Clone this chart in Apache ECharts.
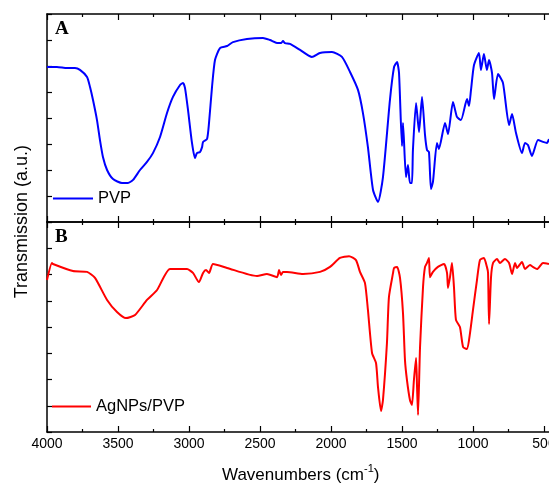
<!DOCTYPE html>
<html>
<head>
<meta charset="utf-8">
<script src="https://cdn.jsdelivr.net/npm/echarts@6/dist/echarts.min.js"></script>
<style>html,body{margin:0;padding:0;background:#fff}#c{width:549px;height:485px}</style>
</head>
<body>
<div id="c"></div>
<script>
// Panel A: PVP
const pvpWavenumber = [4000,3930,3859,3803,3768,3718,3697,3676,3648,3627,3606,3577,3535,3472,3430,3394,3345,3296,3254,3204,3155,3113,3063,3042,3028,3007,2979,2958,2944,2923,2908,2901,2873,2859,2838,2817,2782,2732,2690,2592,2479,2430,2373,2352,2338,2324,2289,2218,2134,2078,1993,1923,1866,1810,1775,1740,1704,1669,1634,1585,1556,1535,1521,1500,1493,1472,1458,1444,1430,1423,1401,1380,1359,1338,1324,1310,1296,1282,1254,1240,1197,1176,1141,1113,1085,1042,1028,1014,993,958,944,923,902,887,866,852,824,789,746,725,697,655,634,613,585,542,507,479,465];
const pvpTransmission = [5.96,5.96,5.92,5.92,5.85,5.58,5.19,4.69,3.92,3.15,2.50,2.00,1.65,1.50,1.50,1.62,2.00,2.31,2.65,3.27,4.19,4.81,5.27,5.35,5.15,4.31,3.04,2.46,2.65,2.69,2.88,3.08,3.19,3.81,5.19,6.23,6.69,6.77,6.92,7.04,7.08,7.00,6.88,6.88,6.96,6.88,6.85,6.62,6.35,6.50,6.54,6.35,5.77,5.08,4.19,2.88,1.23,0.77,1.73,4.69,5.96,6.15,5.73,2.92,3.81,1.73,2.19,1.50,1.50,2.77,4.58,3.46,4.81,3.35,2.77,2.69,1.27,1.54,3.04,2.81,3.81,3.38,4.62,4.04,3.92,4.73,4.46,5.08,6.04,6.50,5.85,6.46,5.85,6.23,5.73,4.73,5.69,5.35,3.73,4.15,3.42,2.65,3.04,2.96,2.54,3.15,3.08,3.04,3.19];

// Panel B: AgNPs/PVP
const agWavenumber = [4000,3965,3958,3817,3718,3662,3577,3507,3444,3380,3296,3225,3134,3014,2972,2930,2901,2880,2859,2831,2732,2521,2451,2380,2366,2352,2338,2310,2197,2077,2007,1937,1873,1824,1796,1761,1740,1711,1683,1669,1648,1634,1606,1592,1563,1556,1535,1514,1493,1479,1465,1444,1430,1416,1401,1394,1387,1373,1352,1338,1324,1310,1303,1282,1247,1204,1183,1176,1162,1148,1134,1120,1092,1070,1042,1021,1000,972,951,923,902,894,887,873,859,831,810,775,746,725,704,690,655,634,599,578,549,507,465];
const agTransmission = [5.79,6.44,6.40,6.13,6.10,5.87,5.03,4.57,4.34,4.46,5.03,5.41,6.21,6.21,6.06,5.71,6.06,6.17,6.06,6.40,6.25,5.94,6.02,5.90,6.17,5.98,6.10,6.10,6.02,6.10,6.29,6.63,6.70,6.55,6.10,5.68,4.65,3.01,2.63,1.71,0.80,1.22,3.39,5.14,6.06,6.25,6.29,5.87,4.53,2.74,1.98,1.22,1.03,1.98,2.82,1.71,0.65,3.24,5.52,6.29,6.44,6.63,5.90,6.10,6.29,6.40,6.06,5.49,5.90,6.44,5.52,4.27,4.00,3.24,3.16,3.77,4.65,5.79,6.55,6.63,6.29,6.06,4.11,5.90,6.44,6.59,6.44,6.59,6.44,6.02,6.44,6.25,6.48,6.21,6.36,6.29,6.21,6.44,6.40];

const xTicks = [4000,3500,3000,2500,2000,1500,1000,500];
const seriesNames = ['PVP','AgNPs/PVP'];

const pair = (xs, ys) => xs.map((x, i) => [x, ys[i]]);
const FONT = 'Liberation Sans, Arial, sans-serif';

const chart = echarts.init(document.getElementById('c'), null, {renderer: 'canvas'});

function xAx(grid, pos, labels) {
  return {
    type: 'value', gridIndex: grid, position: pos, inverse: true,
    min: 0, max: 4000, interval: 500,
    axisLine: {show: true, onZero: false, lineStyle: {color: '#000', width: 1.5}},
    axisTick: {show: true, inside: true, length: 6, lineStyle: {color: '#000', width: 1.2}},
    minorTick: {show: true, splitNumber: 2, length: 3, lineStyle: {color: '#000', width: 1.2}},
    axisLabel: {show: labels, margin: 5, color: '#000', fontSize: 14, fontFamily: FONT,
      formatter: v => (xTicks.indexOf(v) >= 0 ? String(v) : '')},
    splitLine: {show: false}
  };
}
function yAx(grid) {
  return {
    type: 'value', gridIndex: grid, min: 0, max: 8, interval: 1,
    axisLine: {show: true, onZero: false, lineStyle: {color: '#000', width: 1.5}},
    axisTick: {show: true, inside: true, length: 5, lineStyle: {color: '#000', width: 1.2}},
    axisLabel: {show: false},
    splitLine: {show: false}
  };
}

chart.setOption({
  animation: false,
  backgroundColor: '#fff',
  grid: [
    {left: 47, top: 14, width: 568, height: 208, outerBoundsMode: 'none', containLabel: false},
    {left: 47, top: 222, width: 568, height: 210, outerBoundsMode: 'none', containLabel: false}
  ],
  xAxis: [xAx(0, 'bottom', false), xAx(0, 'top', false), xAx(1, 'bottom', true), xAx(1, 'top', false)],
  yAxis: [yAx(0), yAx(1)],
  title: [
    {text: 'A', left: 55, top: 20, padding: 0, textStyle: {fontFamily: 'Liberation Serif, Times New Roman, serif', fontWeight: 'bold', fontSize: 19, color: '#000'}},
    {text: 'B', left: 55, top: 228, padding: 0, textStyle: {fontFamily: 'Liberation Serif, Times New Roman, serif', fontWeight: 'bold', fontSize: 19, color: '#000'}}
  ],
  legend: [
    {data: [seriesNames[0]], left: 53, top: 190, padding: 0, icon: 'rect', itemWidth: 40, itemHeight: 2,
      textStyle: {fontSize: 16.5, fontFamily: FONT, color: '#000'}},
    {data: [seriesNames[1]], left: 52, top: 398, padding: 0, icon: 'rect', itemWidth: 39, itemHeight: 2,
      textStyle: {fontSize: 16.5, fontFamily: FONT, color: '#000'}}
  ],
  graphic: [
    {type: 'text', left: 13, top: 145, rotation: Math.PI / 2,
      style: {text: 'Transmission (a.u.)', fontSize: 18, fontFamily: FONT, fill: '#000'}},
    {type: 'text', left: 222, top: 463,
      style: {text: '{a|Wavenumbers (cm}{s|-1}{a|)}', fill: '#000',
        rich: {a: {fontSize: 17, fontFamily: FONT, lineHeight: 21, verticalAlign: 'bottom'},
               s: {fontSize: 11, fontFamily: FONT, lineHeight: 21, verticalAlign: 'top'}}}}
  ],
  series: [
    {name: seriesNames[0], type: 'line', xAxisIndex: 0, yAxisIndex: 0, data: pair(pvpWavenumber, pvpTransmission),
      smooth: 0.2, showSymbol: false, symbol: 'none', lineStyle: {color: '#0000ff', width: 2}, itemStyle: {color: '#0000ff'}},
    {name: seriesNames[1], type: 'line', xAxisIndex: 2, yAxisIndex: 1, data: pair(agWavenumber, agTransmission),
      smooth: 0.2, showSymbol: false, symbol: 'none', lineStyle: {color: '#ff0000', width: 2}, itemStyle: {color: '#ff0000'}}
  ]
});
</script>
</body>
</html>
